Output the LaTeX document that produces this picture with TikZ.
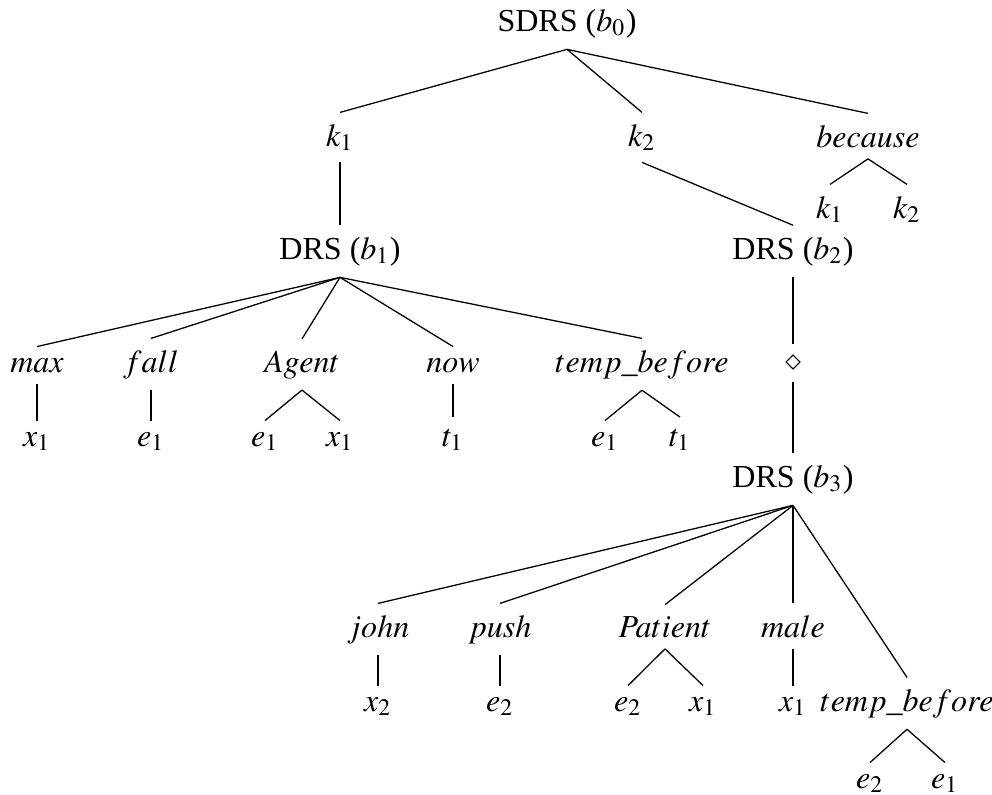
\documentclass[tikz,border=0pt]{standalone}
\usepackage{mathptmx}
\usepackage{fontspec}
\setmainfont{Liberation Serif}

\begin{document}
\begin{tikzpicture}[x=0.312pt, y=-0.312pt, every node/.style={anchor=base, inner sep=3.4pt}, thin]

  \useasboundingbox (0,0) rectangle (992,794);

  % segmented part
  \node (s0) at (567,31) {SDRS ($b_0$)};
  \node (k1) at (340,146) {$k_1$};
  \node (k2) at (642,146) {$k_2$};
  \node (bc) at (868,147) {$because$};
  \node (bk1) at (830,218) {$k_1$};
  \node (bk2) at (907,218) {$k_2$};

  % first box
  \node (b1) at (340,259) {DRS ($b_1$)};
  \node (mx) at (37,372) {$max$};
  \node (fl) at (151,372) {$fall$};
  \node (ag) at (302,372) {$Agent$};
  \node (nw) at (453,372) {$now$};
  \node (tb1) at (642,372) {$temp\_before$};
  \node (mx1) at (37,446) {$x_1$};
  \node (fl1) at (151,446) {$e_1$};
  \node (ag1) at (265,446) {$e_1$};
  \node (ag2) at (340,446) {$x_1$};
  \node (nw1) at (453,446) {$t_1$};
  \node (tb11) at (605,446) {$e_1$};
  \node (tb12) at (680,446) {$t_1$};

  % second box, with the diamond
  \node (b2) at (793,259) {DRS ($b_2$)};
  \node (dm) at (793,363) [anchor=center] {$\diamond$};
  \node (b3) at (793,487) {DRS ($b_3$)};
  \node (jn) at (378,637) {$john$};
  \node (ps) at (500,637) {$push$};
  \node (pt) at (665,637) {$Patient$};
  \node (ml) at (793,637) {$male$};
  \node (tb2) at (907,711) {$temp\_before$};
  \node (jn1) at (378,711) {$x_2$};
  \node (ps1) at (500,711) {$e_2$};
  \node (pt1) at (628,711) {$e_2$};
  \node (pt2) at (703,711) {$x_1$};
  \node (ml1) at (793,711) {$x_1$};
  \node (tb21) at (870,788) {$e_2$};
  \node (tb22) at (945,788) {$e_1$};

  \draw (s0.south) -- (k1.north);
  \draw (s0.south) -- (k2.north);
  \draw (s0.south) -- (bc.north);
  \draw (bc.south) -- (bk1.north);
  \draw (bc.south) -- (bk2.north);
  \draw (k1.south) -- (b1.north);
  \draw (k2.south) -- (b2.north);

  \draw (b1.south) -- (mx.north);
  \draw (b1.south) -- (fl.north);
  \draw (b1.south) -- (ag.north);
  \draw (b1.south) -- (nw.north);
  \draw (b1.south) -- (tb1.north);
  \draw (mx.south) -- (mx1.north);
  \draw (fl.south) -- (fl1.north);
  \draw (ag.south) -- (ag1.north);
  \draw (ag.south) -- (ag2.north);
  \draw (nw.south) -- (nw1.north);
  \draw (tb1.south) -- (tb11.north);
  \draw (tb1.south) -- (tb12.north);

  \draw (b2.south) -- (dm.north);
  \draw (dm.south) -- (b3.north);
  \draw (b3.south) -- (jn.north);
  \draw (b3.south) -- (ps.north);
  \draw (b3.south) -- (pt.north);
  \draw (b3.south) -- (ml.north);
  \draw (b3.south) -- (tb2.north);
  \draw (jn.south) -- (jn1.north);
  \draw (ps.south) -- (ps1.north);
  \draw (pt.south) -- (pt1.north);
  \draw (pt.south) -- (pt2.north);
  \draw (ml.south) -- (ml1.north);
  \draw (tb2.south) -- (tb21.north);
  \draw (tb2.south) -- (tb22.north);

\end{tikzpicture}
\end{document}
